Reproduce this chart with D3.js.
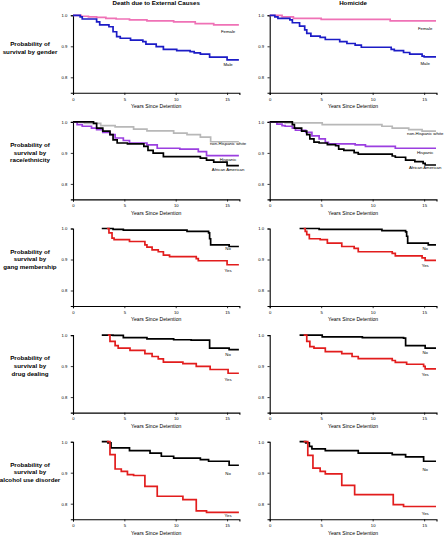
<!DOCTYPE html>
<html><head><meta charset="utf-8">
<script src="https://cdn.jsdelivr.net/npm/d3@7"></script>
<style>html,body{margin:0;padding:0;background:#fff;}svg{display:block;}</style>
</head><body>
<svg id="chart" width="444" height="536"></svg>
<script>
// ---------- DATA (years since detention, survival probability) ----------
const columnTitles = ["Death due to External Causes", "Homicide"];
const rowLabels = [
  ["Probability of", "survival by gender"],
  ["Probability of", "survival by", "race/ethnicity"],
  ["Probability of", "survival by", "gang membership"],
  ["Probability of", "survival by", "drug dealing"],
  ["Probability of", "survival by", "alcohol use disorder"]
];
const xTicks = [0, 5, 10, 15];
const yTicks = [1.0, 0.9, 0.8];
const yTickLabels = ["1.0", "0.9", "0.8"];
const xTitle = "Years Since Detention";
const followUpEnd = 16.15;

const extFemale = [[0,1],[0.8,0.997],[1.5,0.995],[2.3,0.993],[3.2,0.99],[4.2,0.988],[5.5,0.985],[7.2,0.982],[9.8,0.979],[11.9,0.973],[13.7,0.969]];
const extMale = [[0,1],[0.7,0.995],[0.9,0.988],[2.3,0.979],[2.6,0.969],[3.5,0.963],[3.9,0.947],[4.25,0.931],[4.6,0.926],[5.6,0.92],[6.8,0.915],[7.1,0.907],[8.1,0.899],[8.8,0.89],[10.1,0.886],[11.4,0.883],[11.8,0.879],[12.4,0.875],[13.3,0.865],[15.0,0.856]];
const homFemale = [[0,1],[1.2,0.995],[2.3,0.99],[5.0,0.987],[11.7,0.982]];
const homMale = [[0,1],[0.5,0.995],[0.8,0.99],[1.96,0.985],[2.2,0.976],[2.9,0.965],[3.4,0.953],[3.6,0.942],[4.0,0.933],[4.9,0.929],[5.4,0.922],[6.8,0.915],[7.5,0.909],[8.3,0.904],[8.9,0.897],[11.8,0.89],[12.1,0.886],[13.0,0.88],[13.6,0.875],[14.8,0.868],[15.0,0.866]];

const extWhite = [[0,1],[1.1,0.995],[2.7,0.988],[4.1,0.984],[5.9,0.977],[7.2,0.971],[9.8,0.964],[11.1,0.959],[12.4,0.951],[13.4,0.936]];
const extHispanic = [[0,1],[0.4,0.991],[0.9,0.986],[1.8,0.98],[2.3,0.975],[2.9,0.966],[3.6,0.959],[4.1,0.948],[4.9,0.94],[5.5,0.932],[7.2,0.926],[8.2,0.915],[10.4,0.912],[12.2,0.904],[13.0,0.891]];
const extBlack = [[0,1],[2.0,0.995],[2.3,0.98],[2.9,0.97],[3.6,0.959],[3.9,0.942],[4.3,0.932],[5.3,0.929],[6.9,0.921],[7.3,0.908],[7.8,0.899],[8.8,0.888],[12.4,0.883],[13.0,0.877],[13.7,0.870],[15.0,0.859]];
const homWhite = [[0,1],[1.5,0.997],[5.1,0.991],[10.9,0.986],[11.9,0.98],[13.5,0.975],[14.8,0.97]];
const homHispanic = [[0,1],[0.7,0.993],[1.2,0.988],[1.5,0.986],[2.2,0.98],[2.5,0.973],[3.5,0.966],[4.1,0.955],[4.8,0.945],[5.4,0.934],[5.7,0.929],[8.3,0.926],[9.3,0.921],[12.2,0.915]];
const homBlack = [[0,1],[2.2,0.991],[2.4,0.98],[3.1,0.97],[3.6,0.959],[3.9,0.945],[4.3,0.935],[4.8,0.932],[5.6,0.927],[6.4,0.923],[6.7,0.912],[7.2,0.908],[8.2,0.901],[8.6,0.896],[11.9,0.89],[12.2,0.886],[13.2,0.877],[14.1,0.872],[14.9,0.866],[15.1,0.861]];

const extGangNo = [[2.8,1],[3.9,0.997],[4.9,0.995],[11.1,0.991],[13.2,0.986],[13.3,0.967],[13.4,0.947],[15.2,0.942]];
const extGangYes = [[3.3,1],[3.5,0.986],[3.8,0.969],[4.0,0.964],[5.5,0.958],[7.0,0.947],[7.2,0.94],[7.7,0.931],[8.3,0.925],[8.8,0.914],[9.4,0.909],[12.0,0.903],[12.2,0.896],[15.0,0.883]];
const homGangNo = [[2.9,1],[4.8,0.997],[10.9,0.993],[13.2,0.989],[13.3,0.975],[13.4,0.953],[15.4,0.947]];
const homGangYes = [[3.3,1],[3.45,0.991],[3.6,0.98],[3.85,0.967],[4.9,0.964],[5.6,0.953],[7.0,0.942],[8.2,0.936],[8.6,0.925],[11.9,0.92],[12.2,0.912],[14.8,0.905],[15.1,0.897]];

const extDrugNo = [[2.8,1],[3.9,0.999],[4.9,0.992],[7.2,0.988],[9.8,0.985],[11.5,0.984],[13.3,0.958],[15.2,0.953]];
const extDrugYes = [[3.4,1],[3.6,0.98],[4.1,0.966],[4.4,0.958],[5.55,0.951],[7.0,0.94],[7.7,0.931],[8.3,0.923],[8.8,0.913],[10.7,0.908],[12.0,0.899],[13.35,0.889],[15.1,0.877]];
const homDrugNo = [[2.9,1],[5.1,0.994],[9.0,0.992],[13.0,0.99],[13.2,0.966],[15.1,0.958]];
const homDrugYes = [[3.3,1],[3.6,0.98],[3.9,0.963],[4.3,0.958],[5.4,0.947],[7.0,0.94],[8.0,0.931],[8.6,0.924],[11.9,0.918],[12.2,0.912],[13.3,0.906],[14.95,0.899],[15.1,0.891]];

const extAlcNo = [[2.8,1],[3.4,0.996],[3.7,0.98],[5.5,0.971],[7.5,0.963],[8.6,0.953],[9.8,0.947],[12.4,0.942],[13.2,0.937],[15.2,0.924]];
const extAlcYes = [[3.3,1],[3.6,0.958],[4.1,0.912],[4.7,0.904],[5.3,0.894],[5.9,0.891],[7.0,0.856],[8.2,0.824],[10.7,0.813],[12.0,0.777],[13.0,0.772]];
const homAlcNo = [[2.9,1],[3.5,0.996],[3.85,0.985],[4.1,0.977],[5.4,0.971],[8.6,0.963],[11.9,0.958],[13.2,0.951],[14.95,0.937]];
const homAlcYes = [[3.3,1],[3.7,0.956],[4.2,0.915],[4.9,0.904],[5.4,0.896],[7.0,0.859],[8.25,0.829],[12.0,0.797],[13.0,0.791]];

// curve label names and the survival level at which each label sits
const genderNames = ["Female", "Male"];
const raceNames = ["non-Hispanic white", "Hispanic", "African American"];
const yesNoNames = ["No", "Yes"];
const labelLevels = [
  [[0.947, 0.84], [0.958, 0.845]],
  [[0.929, 0.88, 0.845], [0.962, 0.902, 0.853]],
  [[0.937, 0.864], [0.935, 0.88]],
  [[0.939, 0.857], [0.943, 0.874]],
  [[0.898, 0.763], [0.909, 0.768]]
];

// ---------- STYLE ----------
const COL = {pink:"#ef72b6", blue:"#1c1cc6", gray:"#b8b8b8", purple:"#9b3fe0", black:"#000000", red:"#e21d1d"};

const rows = [
  {names: genderNames, colors:[COL.pink, COL.blue], series:[[extFemale, extMale],[homFemale, homMale]]},
  {names: raceNames, colors:[COL.gray, COL.purple, COL.black], series:[[extWhite, extHispanic, extBlack],[homWhite, homHispanic, homBlack]]},
  {names: yesNoNames, colors:[COL.black, COL.red], series:[[extGangNo, extGangYes],[homGangNo, homGangYes]]},
  {names: yesNoNames, colors:[COL.black, COL.red], series:[[extDrugNo, extDrugYes],[homDrugNo, homDrugYes]]},
  {names: yesNoNames, colors:[COL.black, COL.red], series:[[extAlcNo, extAlcYes],[homAlcNo, homAlcYes]]}
];

const FONT = "'Liberation Sans', Arial, sans-serif";
const svg = d3.select("#chart");
const colRanges = [[73, 239.4], [269.7, 436.5]];
const rowTop0 = 15.3, rowStep = 106.6, plotH = 77.5;

const line = d3.line().curve(d3.curveStepAfter);

// column titles
columnTitles.forEach((t, c) => {
  svg.append("text")
    .attr("x", (colRanges[c][0] + colRanges[c][1]) / 2)
    .attr("y", 5.2)
    .attr("text-anchor", "middle")
    .attr("font-family", FONT).attr("font-weight", "bold").attr("font-size", 6.2)
    .text(t);
});

rows.forEach((row, r) => {
  const top = rowTop0 + r * rowStep;
  // row label
  const lab = svg.append("text")
    .attr("text-anchor", "middle")
    .attr("font-family", FONT).attr("font-weight", "bold").attr("font-size", 6.2);
  const n = rowLabels[r].length;
  const yScaleTmp = d3.scaleLinear().domain([0.75, 1]).range([top + plotH, top]);
  const cy = yScaleTmp(0.9) + (n === 2 ? 1.2 : -0.5);
  rowLabels[r].forEach((s, i) => {
    lab.append("tspan").attr("x", 30)
      .attr("y", cy + (i - (n - 1) / 2) * 7.7 + 2.2)
      .text(s);
  });

  [0, 1].forEach(c => {
    const x = d3.scaleLinear().domain([0, 16.2]).range(colRanges[c]);
    const y = d3.scaleLinear().domain([0.75, 1]).range([top + plotH, top]);
    const g = svg.append("g");

    // axes
    const ax = g.append("g").attr("transform", `translate(0,${top + plotH})`)
      .call(d3.axisBottom(x).tickValues(xTicks).tickSizeOuter(0).tickSize(2.2).tickPadding(2.6).tickFormat(d3.format("d")));
    const ay = g.append("g").attr("transform", `translate(${colRanges[c][0]},0)`)
      .call(d3.axisLeft(y).tickValues(yTicks).tickSizeOuter(0).tickSize(2.2).tickPadding(3.5).tickFormat((d, i) => yTickLabels[i]));
    [ax, ay].forEach(a => {
      a.select(".domain").attr("stroke", "#000").attr("stroke-width", 1.1);
      a.selectAll(".tick line").attr("stroke", "#000").attr("stroke-width", 0.8);
      a.selectAll(".tick text").attr("font-family", FONT).attr("font-size", 4.2).attr("fill", "#000");
    });
    g.append("text")
      .attr("x", (colRanges[c][0] + colRanges[c][1]) / 2)
      .attr("y", top + plotH + 15.3)
      .attr("text-anchor", "middle")
      .attr("font-family", FONT).attr("font-size", 5.1)
      .text(xTitle);

    // curves
    row.series[c].forEach((pts, k) => {
      const last = pts[pts.length - 1];
      const full = pts.concat([[followUpEnd, last[1]]]);
      g.append("path")
        .attr("d", line(full.map(p => [x(p[0]), y(p[1])])))
        .attr("fill", "none")
        .attr("stroke", row.colors[k])
        .attr("stroke-width", 1.7)
        .attr("stroke-linejoin", "miter");
    });

    // curve labels
    row.names.forEach((nm, k) => {
      g.append("text")
        .attr("x", x(15.1))
        .attr("y", y(labelLevels[r][c][k]) + 1.5)
        .attr("text-anchor", "middle")
        .attr("font-family", FONT).attr("font-size", 4.3)
        .text(nm);
    });
  });
});
</script>
</body></html>
